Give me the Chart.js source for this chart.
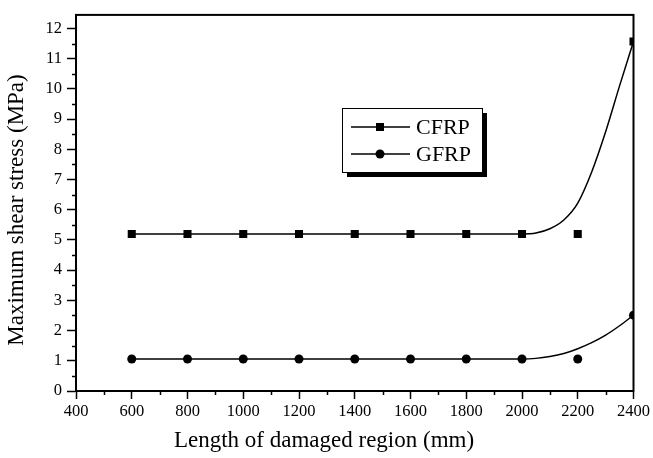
<!DOCTYPE html>
<html>
<head>
<meta charset="utf-8">
<script src="https://cdn.jsdelivr.net/npm/chart.js@4/dist/chart.umd.min.js"></script>
<style>
html,body{margin:0;padding:0;background:#fff;}
#wrap{width:653px;height:458px;position:relative;}
</style>
</head>
<body>
<div id="wrap"><canvas id="c" width="653" height="458"></canvas></div>
<script>
// ---- data ----
const lengths = [600, 800, 1000, 1200, 1400, 1600, 1800, 2000, 2200, 2400];
const cfrpValues = [5.2, 5.2, 5.2, 5.2, 5.2, 5.2, 5.2, 5.2, 5.2, 11.57];
const gfrpValues = [1.06, 1.06, 1.06, 1.06, 1.06, 1.06, 1.06, 1.06, 1.06, 2.51];
// fitted curves as drawn in the reference
const fitLengths = [600, 800, 1000, 1200, 1400, 1600, 1800, 2000, 2050, 2100, 2150, 2200, 2250, 2300, 2350, 2400];
const cfrpFit = [5.2, 5.2, 5.2, 5.2, 5.2, 5.2, 5.2, 5.2, 5.23, 5.37, 5.66, 6.22, 7.25, 8.58, 10.1, 11.57];
const gfrpFit = [1.06, 1.06, 1.06, 1.06, 1.06, 1.06, 1.06, 1.06, 1.08, 1.14, 1.24, 1.40, 1.60, 1.85, 2.16, 2.51];
const seriesNames = ['CFRP', 'GFRP'];
const xTitle = 'Length of damaged region (mm)';
const yTitle = 'Maximum shear stress (MPa)';

const SERIF = "'Liberation Serif', 'Times New Roman', serif";
const toXY = (xs, ys) => xs.map((x, i) => ({x: x, y: ys[i]}));

const decor = {
  id: 'decor',
  afterDraw(chart) {
    const ctx = chart.ctx, a = chart.chartArea;
    const xs = chart.scales.x, ys = chart.scales.y;
    ctx.save();
    ctx.strokeStyle = '#000';
    ctx.lineWidth = 1.5;
    ctx.beginPath();
    for (let v = 500; v < 2400; v += 200) {
      const px = Math.round(xs.getPixelForValue(v)) + 0.5;
      ctx.moveTo(px, a.bottom); ctx.lineTo(px, a.bottom + 4);
    }
    for (let v = 0.5; v < 12.4; v += 1) {
      const py = Math.round(ys.getPixelForValue(v)) + 0.5;
      ctx.moveTo(a.left, py); ctx.lineTo(a.left - 4, py);
    }
    ctx.stroke();
    // frame
    ctx.lineWidth = 2;
    ctx.strokeRect(a.left, a.top, a.right - a.left, a.bottom - a.top);
    // axis titles
    ctx.fillStyle = '#000';
    ctx.font = "23px " + SERIF;
    ctx.textAlign = 'center';
    ctx.textBaseline = 'middle';
    ctx.fillText(xTitle, 324, 441);
    ctx.translate(17, 210);
    ctx.rotate(-Math.PI / 2);
    ctx.fillText(yTitle, 0, 0);
    ctx.restore();
  }
};

const boxLegend = {
  id: 'boxLegend',
  afterDraw(chart) {
    const ctx = chart.ctx;
    const bx = 342, by = 108, bw = 140, bh = 64;
    ctx.save();
    ctx.fillStyle = '#000';
    ctx.fillRect(bx + 5, by + 5, bw, bh);
    ctx.fillStyle = '#fff';
    ctx.fillRect(bx, by, bw, bh);
    ctx.strokeStyle = '#000';
    ctx.lineWidth = 1;
    ctx.strokeRect(bx + 0.5, by + 0.5, bw, bh);
    const rows = [127, 154];
    ctx.font = "22px " + SERIF;
    ctx.textBaseline = 'middle';
    rows.forEach((y, i) => {
      ctx.strokeStyle = '#000';
      ctx.lineWidth = 1.5;
      ctx.beginPath();
      ctx.moveTo(351, y); ctx.lineTo(410, y);
      ctx.stroke();
      ctx.fillStyle = '#000';
      if (i === 0) {
        ctx.fillRect(376, y - 4, 8, 8);
      } else {
        ctx.beginPath(); ctx.arc(380, y, 4.5, 0, Math.PI * 2); ctx.fill();
      }
      ctx.fillText(seriesNames[i], 416, y + 1);
    });
    ctx.restore();
  }
};

new Chart(document.getElementById('c'), {
  type: 'scatter',
  data: {
    datasets: [
      {label: seriesNames[0] + ' fit', data: toXY(fitLengths, cfrpFit), showLine: true, borderColor: '#000', borderWidth: 1.5, pointRadius: 0, cubicInterpolationMode: 'monotone', clip: 0},
      {label: seriesNames[1] + ' fit', data: toXY(fitLengths, gfrpFit), showLine: true, borderColor: '#000', borderWidth: 1.5, pointRadius: 0, cubicInterpolationMode: 'monotone', clip: 0},
      {label: seriesNames[0], data: toXY(lengths, cfrpValues), showLine: false, pointStyle: 'rect', pointRadius: 5.7, backgroundColor: '#000', borderColor: '#000', borderWidth: 0, clip: 0},
      {label: seriesNames[1], data: toXY(lengths, gfrpValues), showLine: false, pointStyle: 'circle', pointRadius: 4.5, backgroundColor: '#000', borderColor: '#000', borderWidth: 0, clip: 0}
    ]
  },
  options: {
    responsive: false,
    animation: false,
    events: [],
    layout: {padding: {left: 0, top: 11, right: 18, bottom: 0}},
    plugins: {legend: {display: false}, tooltip: {enabled: false}},
    scales: {
      x: {
        type: 'linear', min: 400, max: 2400,
        afterFit(s) { s.height = 67; },
        ticks: {stepSize: 200, color: '#000', font: {family: SERIF, size: 16.5}, padding: 3, maxRotation: 0, includeBounds: false, callback: v => String(v)},
        grid: {display: true, drawOnChartArea: false, tickLength: 8, tickColor: '#000', tickWidth: 1.5},
        border: {display: true, color: '#000', width: 2},
        title: {display: false}
      },
      y: {
        type: 'linear', min: 0, max: 12.45,
        afterFit(s) { s.width = 76; },
        ticks: {stepSize: 1, color: '#000', font: {family: SERIF, size: 16.5}, padding: 5, includeBounds: false, callback: v => String(v)},
        grid: {display: true, drawOnChartArea: false, tickLength: 9, tickColor: '#000', tickWidth: 1.5},
        border: {display: true, color: '#000', width: 2},
        title: {display: false}
      }
    }
  },
  plugins: [decor, boxLegend]
});
</script>
</body>
</html>
